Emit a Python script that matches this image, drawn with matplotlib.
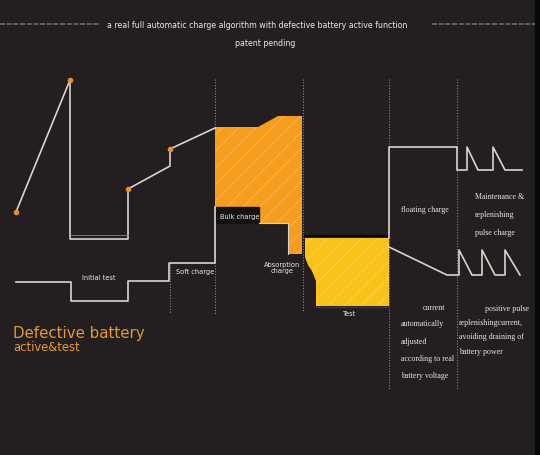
import matplotlib.pyplot as plt
from matplotlib.patches import Polygon

# canvas in pixel units (y grows downwards)
W, H = 540, 456
BG = '#231f20'
LINE = '#d9d4cc'
ORANGE = '#f79d1e'
YELLOW = '#fbc21a'

SANS = ['DejaVu Sans']
SERIF = ['Liberation Serif', 'DejaVu Serif']
plt.rcParams['hatch.linewidth'] = 0.6

title_lines = ['a real full automatic charge algorithm with defective battery active function',
               'patent pending']

# voltage curve (upper line) in the first stages
volt_x = [16, 70, 70, 128, 128, 170, 170, 215]
volt_y = [213, 81, 240, 240, 190, 167, 150, 129]
volt_dots_x = [16, 70, 128, 170]
volt_dots_y = [213, 81, 190, 150]

# current curve (lower line)
curr_x = [16, 71, 71, 128, 128, 169, 169, 215, 215]
curr_y = [283, 283, 302, 302, 282, 282, 264, 264, 208]

# bulk + absorption area (orange)
bulk_x = [215, 258, 278, 302, 302, 288, 288, 259, 259, 215]
bulk_y = [128, 128, 117, 117, 255, 255, 224, 224, 208, 208]

# test area (yellow)
test_x = [305, 389, 389, 316, 316, 312, 308, 305]
test_y = [239, 239, 307, 307, 282, 272, 266, 258]

# floating charge and pulses
float_x = [389, 389, 457, 457, 467, 467, 478, 493, 493, 505, 522]
float_y = [239, 148, 148, 171, 171, 148, 171, 171, 148, 171, 171]
pulse_x = [389, 447, 459, 459, 472, 482, 482, 495, 505, 505, 520]
pulse_y = [248, 276, 276, 251, 276, 276, 251, 276, 276, 251, 276]

# stage separators (dotted)
sep_x = [170, 215, 303, 389, 457]
sep_top = [265, 80, 80, 80, 80]
sep_bot = [315, 315, 312, 390, 390]

fig = plt.figure(figsize=(W / 100, H / 100), dpi=100, facecolor=BG)
ax = fig.add_axes([0, 0, 1, 1])
ax.set_xlim(0, W)
ax.set_ylim(H, 0)
ax.set_facecolor(BG)
ax.axis('off')
ax.add_patch(plt.Rectangle((535, 0), 5, H, color='#0a0909', zorder=0))

# title + dashed rules
ax.text(257, 26, title_lines[0], color='#ece8e2', fontsize=5.7, family=SANS,
        ha='center', va='center')
ax.text(265, 43, title_lines[1], color='#ece8e2', fontsize=5.7, family=SANS,
        ha='center', va='center')
ax.plot([0, 100], [25, 25], color='#6e6a66', lw=1.2, ls=(0, (3, 1)))
ax.plot([432, 535], [25, 25], color='#6e6a66', lw=1.2, ls=(0, (3, 1)))

for x, t, b in zip(sep_x, sep_top, sep_bot):
    ax.plot([x, x], [t, b], color='#8a8580', lw=0.8, ls=(0, (1, 1.5)), zorder=1)

bulk = Polygon(list(zip(bulk_x, bulk_y)), closed=True, facecolor=ORANGE, edgecolor='#fab55a',
               hatch='//', lw=0, zorder=2)
ax.add_patch(bulk)
test = Polygon(list(zip(test_x, test_y)), closed=True, facecolor=YELLOW, edgecolor='#fdd25a',
               hatch='//', lw=0, zorder=2)
ax.add_patch(test)

# dark band above test area, label box under bulk area
ax.plot([305, 389], [237, 237], color='#0b0a0a', lw=1.5, zorder=3)
ax.add_patch(plt.Rectangle((216, 208), 43, 16, color='#141212', zorder=2))

ax.plot(volt_x, volt_y, color=LINE, lw=1.2, zorder=3)
ax.plot([70, 128], [236, 236], color='#8a8580', lw=0.6, zorder=3)
ax.scatter(volt_dots_x, volt_dots_y, s=9, color='#e8902a', zorder=4)
ax.plot(curr_x, curr_y, color=LINE, lw=1.2, zorder=3)
ax.plot([259, 288, 288], [224, 224, 255], color=LINE, lw=0.8, zorder=3)
ax.plot([316, 389], [307.5, 307.5], color='#3a3a3a', lw=1, zorder=3)
ax.plot(float_x, float_y, color=LINE, lw=1.2, zorder=3)
ax.plot(pulse_x, pulse_y, color=LINE, lw=1.2, zorder=3)

# labels
small = dict(color='#ece8e2', fontsize=4.8, family=SANS, va='center')
ax.text(99, 278, 'Initial test', ha='center', **small)
ax.text(195, 272, 'Soft charge', ha='center', **small)
ax.text(240, 217, 'Bulk charge', ha='center', zorder=5, **small)
ax.text(282, 268, 'Absorption\ncharge', ha='center', linespacing=1.0, **small)
ax.text(350, 314, 'Test', ha='center', **small)

serif = dict(color='#ece8e2', fontsize=5.7, family=SERIF, va='center', ha='left')
ax.text(401, 210, 'floating charge', **serif)
ax.text(475, 197, 'Maintenance &', **serif)
ax.text(475, 215, 'replenishing', **serif)
ax.text(475, 233, 'pulse charge', **serif)
ax.text(423, 308, 'current', **serif)
ax.text(401, 324, 'automatically', **serif)
ax.text(401, 342, 'adjusted', **serif)
ax.text(401, 359, 'according to real', **serif)
ax.text(401, 376, 'battery voltage', **serif)
ax.text(485, 309, 'positive pulse', **serif)
ax.text(459, 323, 'replenishingcurrent,', **serif)
ax.text(459, 337, 'avoiding draining of', **serif)
ax.text(459, 352, 'battery power', **serif)

ax.text(13, 334, 'Defective battery', color='#e49a30', fontsize=10.8, family=SANS,
        va='center', ha='left')
ax.text(13, 348, 'active&test', color='#e49a30', fontsize=8.3, family=SANS,
        va='center', ha='left')

fig.savefig('out.png', dpi=100, facecolor=BG)
